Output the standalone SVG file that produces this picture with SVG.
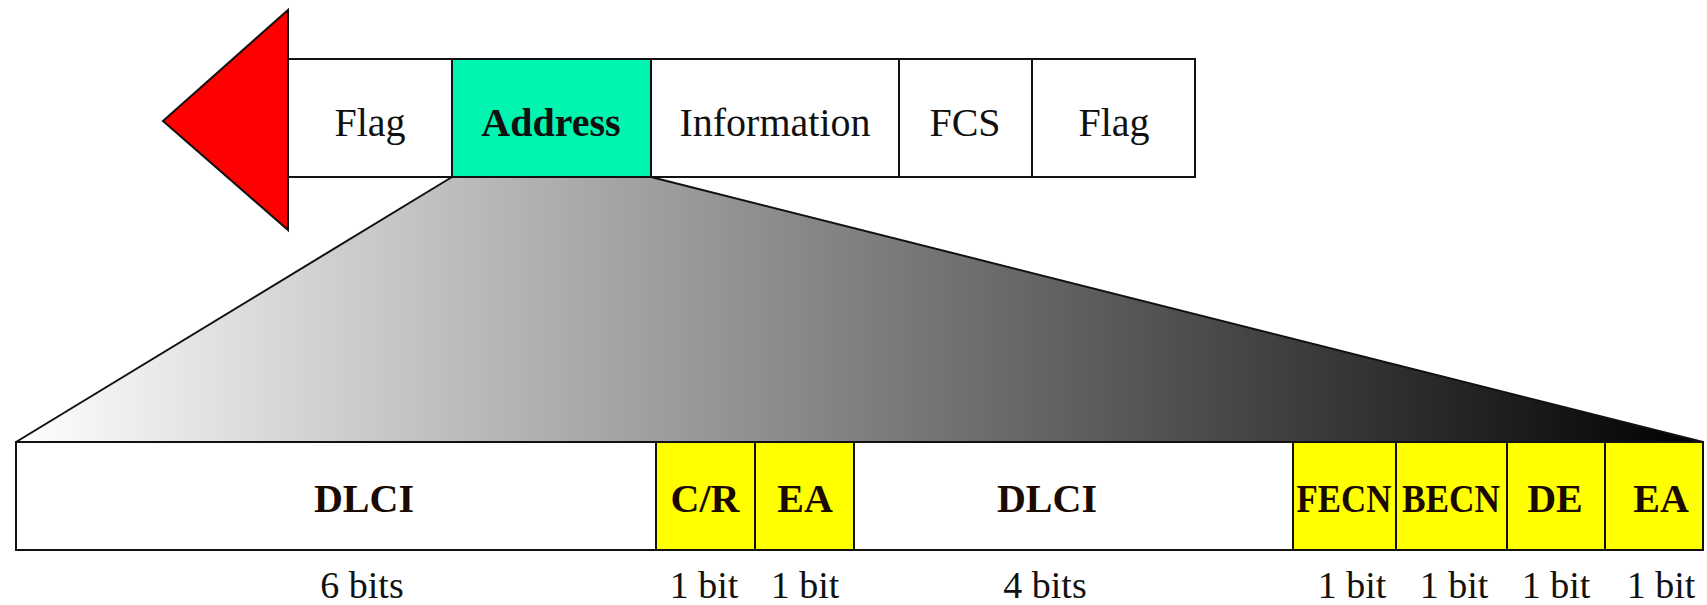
<svg xmlns="http://www.w3.org/2000/svg" width="1707" height="605" viewBox="0 0 1707 605">
  <style>
    .cell { stroke: #111; stroke-width: 2; }
    .plain { fill: #ffffff; }
    .yel { fill: #ffff00; }
    .top { font-family: "Liberation Serif", "Times New Roman", serif; font-size: 40px; fill: #111; text-anchor: middle; }
    .bold { font-family: "Liberation Serif", "Times New Roman", serif; font-size: 40px; font-weight: bold; fill: #1a0a00; text-anchor: middle; }
    .lbl { font-family: "Liberation Serif", "Times New Roman", serif; font-size: 38px; fill: #111; text-anchor: middle; }
  </style>
  <defs>
    <linearGradient id="fade" gradientUnits="userSpaceOnUse" x1="15" y1="0" x2="1703" y2="0">
      <stop offset="0" stop-color="#ffffff"/>
      <stop offset="1" stop-color="#000000"/>
    </linearGradient>
  </defs>
  <rect width="1707" height="605" fill="#ffffff"/>

  <g id="connectors">
    <polygon points="452,177 651,177 1703,442 16,442" fill="url(#fade)" stroke="none"/>
    <line x1="452" y1="177" x2="16" y2="442" stroke="#111" stroke-width="2"/>
    <line x1="651" y1="177" x2="1703" y2="442" stroke="#111" stroke-width="2"/>
  </g>

  <g id="arrow">
    <polygon points="163,121 288,10 288,230" fill="#ff0000" stroke="#111" stroke-width="2" stroke-linejoin="miter"/>
  </g>

  <g id="frame">
    <g id="flag1">
      <rect class="cell plain" x="288" y="59" width="164" height="118"/>
      <text class="top" x="370" y="136">Flag</text>
    </g>
    <g id="address">
      <rect class="cell" x="452" y="59" width="199" height="118" fill="#00f5b0"/>
      <text class="top" x="551" y="136" font-weight="bold">Address</text>
    </g>
    <g id="information">
      <rect class="cell plain" x="651" y="59" width="248" height="118"/>
      <text class="top" x="775" y="136">Information</text>
    </g>
    <g id="fcs">
      <rect class="cell plain" x="899" y="59" width="133" height="118"/>
      <text class="top" x="965" y="136">FCS</text>
    </g>
    <g id="flag2">
      <rect class="cell plain" x="1032" y="59" width="163" height="118"/>
      <text class="top" x="1114" y="136">Flag</text>
    </g>
  </g>

  <g id="addressfield">
    <g id="dlci1">
      <rect class="cell plain" x="16" y="442" width="640" height="108"/>
      <text class="bold" x="364" y="512">DLCI</text>
      <text class="lbl" x="362" y="598">6 bits</text>
    </g>
    <g id="cr">
      <rect class="cell yel" x="656" y="442" width="99" height="108"/>
      <text class="bold" x="705" y="512">C/R</text>
      <text class="lbl" x="704" y="598">1 bit</text>
    </g>
    <g id="ea1">
      <rect class="cell yel" x="755" y="442" width="99" height="108"/>
      <text class="bold" x="805" y="512">EA</text>
      <text class="lbl" x="805" y="598">1 bit</text>
    </g>
    <g id="dlci2">
      <rect class="cell plain" x="854" y="442" width="439" height="108"/>
      <text class="bold" x="1047" y="512">DLCI</text>
      <text class="lbl" x="1045" y="598">4 bits</text>
    </g>
    <g id="fecn">
      <rect class="cell yel" x="1293" y="442" width="103" height="108"/>
      <text class="bold" x="1344" y="512" textLength="95" lengthAdjust="spacingAndGlyphs">FECN</text>
      <text class="lbl" x="1352" y="598">1 bit</text>
    </g>
    <g id="becn">
      <rect class="cell yel" x="1396" y="442" width="111" height="108"/>
      <text class="bold" x="1451" y="512" textLength="98" lengthAdjust="spacingAndGlyphs">BECN</text>
      <text class="lbl" x="1454" y="598">1 bit</text>
    </g>
    <g id="de">
      <rect class="cell yel" x="1507" y="442" width="98" height="108"/>
      <text class="bold" x="1555" y="512">DE</text>
      <text class="lbl" x="1556" y="598">1 bit</text>
    </g>
    <g id="ea2">
      <rect class="cell yel" x="1605" y="442" width="98" height="108"/>
      <text class="bold" x="1661" y="512">EA</text>
      <text class="lbl" x="1661" y="598">1 bit</text>
    </g>
  </g>
</svg>
